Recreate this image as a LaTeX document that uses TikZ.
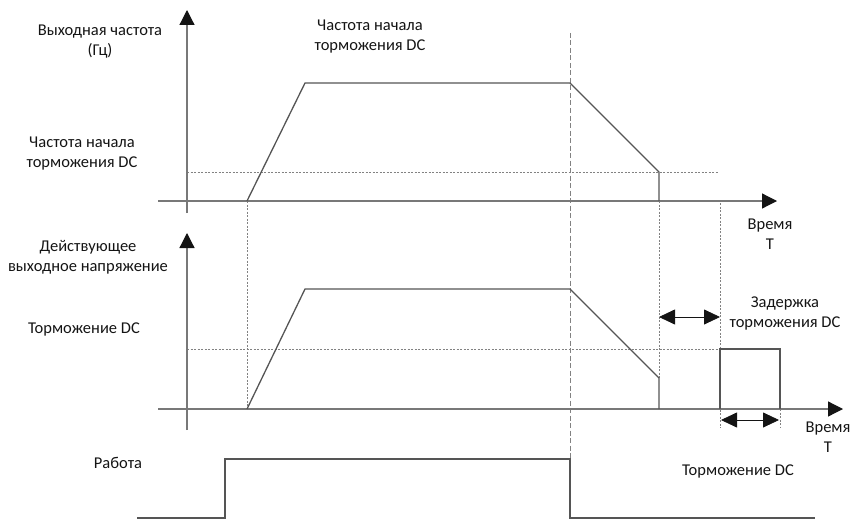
\documentclass[tikz,border=0pt]{standalone}
\usepackage{fontspec}
\setmainfont{Carlito}
\usepackage{tikz}
\usetikzlibrary{arrows.meta}
\definecolor{ink}{RGB}{20,20,20}
\definecolor{axisgray}{RGB}{120,120,120}
\definecolor{curvegray}{RGB}{85,85,85}
\definecolor{guidegray}{RGB}{130,130,130}
\tikzset{
  lbl/.style={font=\fontsize{16.5}{20}\selectfont,text=ink,align=center,inner sep=0pt},
  axis/.style={draw=axisgray,line width=1.2pt,-{Triangle[length=15pt,width=15pt,color=ink]}},
  curve/.style={draw=curvegray,line width=1.3pt},
  guide/.style={draw=guidegray,line width=0.7pt,dash pattern=on 2pt off 1.5pt},
  marker/.style={draw=guidegray,line width=0.8pt,dash pattern=on 5pt off 2.5pt},
  span/.style={draw=ink,line width=0.8pt,
    {Triangle[length=16pt,width=15pt]}-{Triangle[length=16pt,width=15pt]}},
}
\begin{document}
\begin{tikzpicture}[x=1pt,y=-1pt]
  \useasboundingbox (0,0) rectangle (850,524);

  % frequency
  \coordinate (fy0) at (187,213);
  \coordinate (fy1) at (187,10);
  \coordinate (fx0) at (158,201);
  \coordinate (fx1) at (777,201);
  \coordinate (fa) at (247,201);
  \coordinate (fb) at (305,83);
  \coordinate (fc) at (570,83);
  \coordinate (fd) at (659,172);
  \coordinate (fe) at (659,201);
  \coordinate (ft0) at (187,172);
  \coordinate (ft1) at (718,172);

  % voltage
  \coordinate (vy0) at (187,430);
  \coordinate (vy1) at (187,233);
  \coordinate (vx0) at (158,409);
  \coordinate (vx1) at (843,409);
  \coordinate (va) at (247,409);
  \coordinate (vb) at (305,289);
  \coordinate (vc) at (570,289);
  \coordinate (vd) at (659,378);
  \coordinate (ve) at (659,409);
  \coordinate (vt0) at (187,349);
  \coordinate (pa) at (720,409);
  \coordinate (pb) at (720,349);
  \coordinate (pc) at (780,349);
  \coordinate (pd) at (780,409);

  % run
  \coordinate (ra) at (137,518);
  \coordinate (rb) at (225,518);
  \coordinate (rc) at (225,459);
  \coordinate (rd) at (570,459);
  \coordinate (re) at (570,518);
  \coordinate (rf) at (815,518);

  \node[lbl] (lblfreq) at (100,42) {Выходная частота\\(Гц)};
  \node[lbl] (lblstarttop) at (370,37) {Частота начала\\торможения DC};
  \node[lbl] (lblstart) at (82,154) {Частота начала\\торможения DC};
  \node[lbl] (lbltime1) at (770,234) {Время\\T};
  \node[lbl] (lblvolt) at (88,257) {Действующее\\выходное напряжение};
  \node[lbl] (lblbrake) at (84,329) {Торможение DC};
  \node[lbl] (lbldelay) at (785,313) {Задержка\\торможения DC};
  \node[lbl] (lbltime2) at (828,437) {Время\\T};
  \node[lbl] (lblrun) at (118,463) {Работа};
  \node[lbl] (lblbrake2) at (738,471) {Торможение DC};

  \draw[guide] (ft0) -- (ft1);
  \draw[guide] (vt0) -- (pb);
  \draw[guide] (fa) -- (va);
  \draw[guide] (fe) -- (vd);
  \draw[guide] (720,203) -- (720,428);
  \draw[guide] (pd) -- (780,428);
  \draw[marker] (570,33) -- (rd);

  \draw[axis] (fy0) -- (fy1);
  \draw[axis] (fx0) -- (fx1);
  \draw[axis] (vy0) -- (vy1);
  \draw[axis] (vx0) -- (vx1);

  \draw[curve] (fa) -- (fb) -- (fc) -- (fd) -- (fe);
  \draw[curve] (va) -- (vb) -- (vc) -- (vd) -- (ve);
  \draw[curve] (pa) -- (pb) -- (pc) -- (pd);
  \draw[curve] (ra) -- (rb) -- (rc) -- (rd) -- (re) -- (rf);

  \draw[span] (659,317) -- (720,317);
  \draw[span] (721,420) -- (779,420);
\end{tikzpicture}
\end{document}
